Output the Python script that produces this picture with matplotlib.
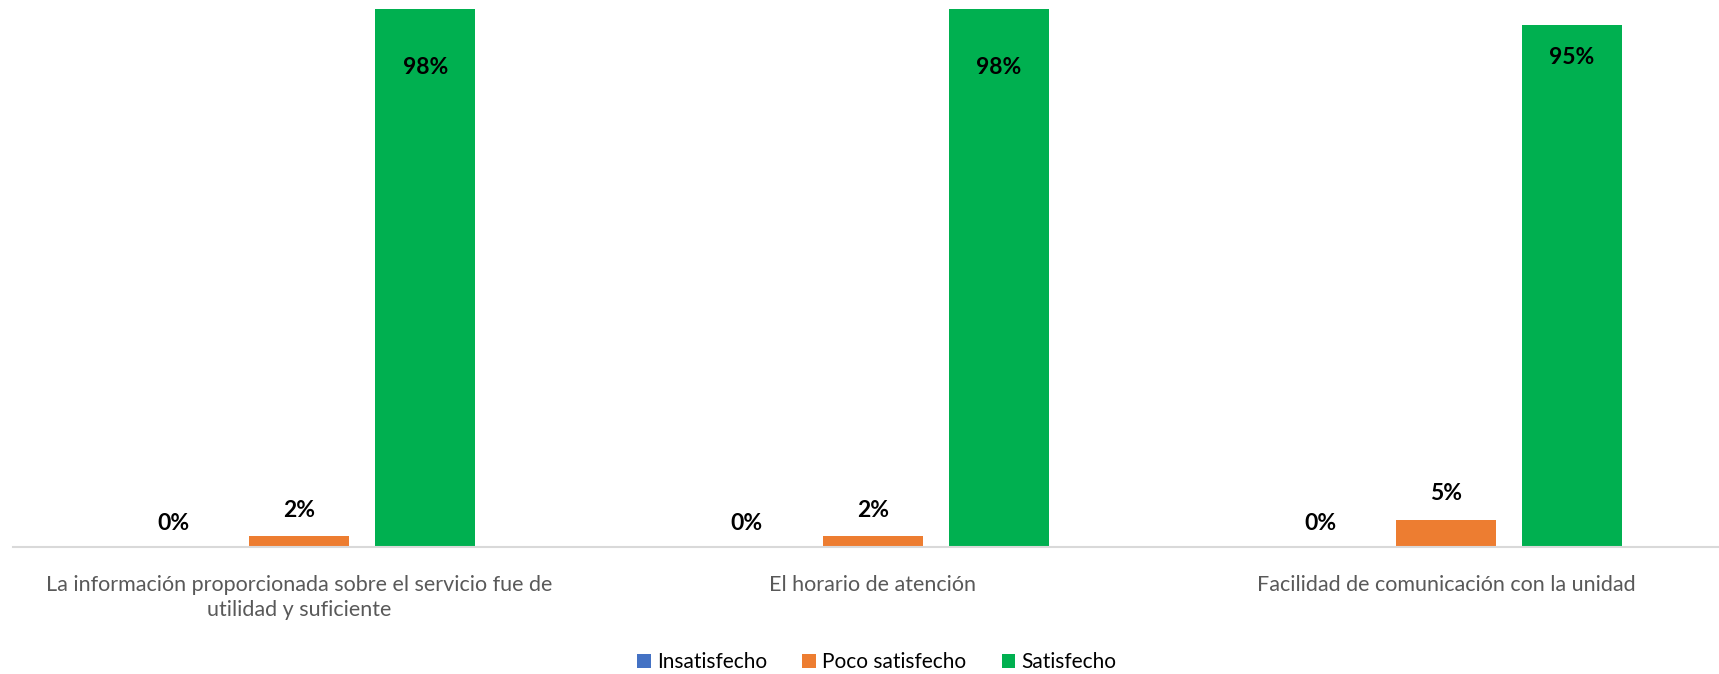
import matplotlib.pyplot as plt
import numpy as np

plt.rcParams['font.family'] = ['Lato', 'DejaVu Sans']

# data
categories = ["La información proporcionada sobre el servicio fue de\nutilidad y suficiente",
              "El horario de atención",
              "Facilidad de comunicación con la unidad"]
series = ["Insatisfecho", "Poco satisfecho", "Satisfecho"]
insatisfecho = [0.00, 0.00, 0.00]
poco_satisfecho = [0.02, 0.02, 0.05]
satisfecho = [0.98, 0.98, 0.95]

colors = ["#4472C4", "#ED7D31", "#00B050"]

fig = plt.figure(figsize=(17.19, 6.74), dpi=100)
ax = fig.add_axes([12.75 / 1719, 127 / 674, 1720 / 1719, 549 / 674])

x = np.arange(len(categories))
width = 0.1744
step = 0.2197

values = [insatisfecho, poco_satisfecho, satisfecho]
for i, (name, vals) in enumerate(zip(series, values)):
    pos = x + (i - 1) * step
    ax.bar(pos, vals, width, color=colors[i], label=name)
    for p, v in zip(pos, vals):
        if v > 0.5:
            # labels that sit inside the tall bars
            off = -59 if v > 0.96 else -32
        elif v == 0:
            off = 23
        else:
            off = 26
        ax.annotate(f"{v:.0%}", (p, v), xytext=(0, off), textcoords="offset pixels",
                    ha="center", va="center", fontsize=16.5, fontweight="bold", color="black")

ax.set_xlim(-0.5, 2.5)
ax.set_ylim(0, 1.0)
ax.set_yticks([])
ax.set_xticks(x)
ax.set_xticklabels(categories, fontsize=15.5, color="#595959", linespacing=1.3)
ax.tick_params(axis="x", length=0, pad=20)
for s in ["top", "right", "left"]:
    ax.spines[s].set_visible(False)
ax.spines["bottom"].set_color("#D9D9D9")
ax.spines["bottom"].set_linewidth(1.5)

fig.legend(loc="center", bbox_to_anchor=(0.51, 0.018), ncol=3, frameon=False,
           fontsize=15, handlelength=0.65, handleheight=0.65, handletextpad=0.3,
           columnspacing=1.7, labelcolor="#000000")

fig.savefig("out.png", dpi=100)
